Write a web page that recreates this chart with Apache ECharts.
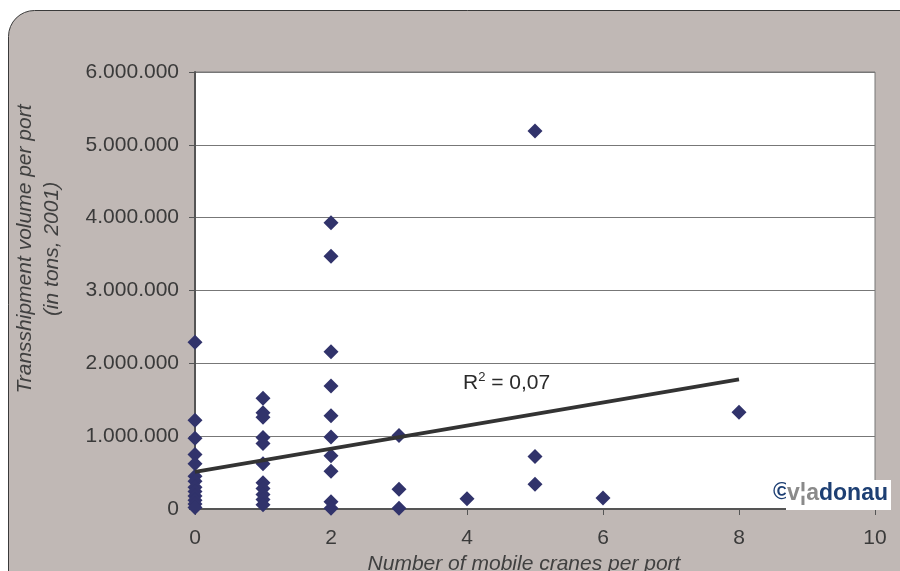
<!DOCTYPE html>
<html>
<head>
<meta charset="utf-8">
<script src="https://cdn.jsdelivr.net/npm/echarts@6/dist/echarts.min.js"></script>
<style>
html,body{margin:0;padding:0;background:#ffffff;overflow:hidden;}
#chart{width:900px;height:571px;}
</style>
</head>
<body>
<div id="chart"></div>
<script>
// Number of mobile cranes per port (x) and transshipment volume in tons (y)
const cranesX = [
  0,0,0,0,0,0,0,0,0,0,0,0,0,
  1,1,1,1,1,1,1,1,1,1,1,
  2,2,2,2,2,2,2,2,2,2,
  3,3,3,
  4,
  5,5,5,
  6,
  8
];
const volumeY = [
  2290000,1220000,970000,750000,620000,450000,380000,300000,240000,180000,120000,70000,20000,
  1520000,1320000,1260000,980000,900000,620000,360000,280000,200000,130000,60000,
  3930000,3470000,2160000,1690000,1280000,990000,730000,520000,100000,10000,
  1010000,270000,10000,
  140000,
  5190000,720000,340000,
  150000,
  1330000
];
const trendX = [0, 8];
const trendY = [510000, 1780000];
const yTicks = [0,1000000,2000000,3000000,4000000,5000000,6000000];
const xTicks = [0,2,4,6,8,10];

const scatterData = cranesX.map((x, i) => [x, volumeY[i]]);
const trendData = trendX.map((x, i) => [x, trendY[i]]);

function fmt(v){ return String(v).replace(/\B(?=(\d{3})+(?!\d))/g, '.'); }

const FF = 'Liberation Sans, Arial, sans-serif';
const chart = echarts.init(document.getElementById('chart'));
chart.setOption({
  animation: false,
  backgroundColor: 'transparent',
  graphic: [
    { type: 'rect', z: -10, shape: { x: 8.5, y: 10.5, width: 920, height: 600, r: 26 },
      style: { fill: '#c0b8b5', stroke: '#3a3a3a', lineWidth: 1 } },
    { type: 'text', z: 10, x: 39, y: 249, rotation: Math.PI / 2,
      style: { text: 'Transshipment volume per port\n(in tons, 2001)', fontFamily: FF,
        fontStyle: 'italic', fontSize: 21, lineHeight: 27, fill: '#404040', align: 'center', verticalAlign: 'middle' } },
    { type: 'text', z: 10, x: 463, y: 383,
      style: { text: '{r|R}{s|2}{r| = 0,07}', fontFamily: FF, fill: '#2a2a2a',
        verticalAlign: 'middle',
        rich: { r: { fontSize: 21, fontFamily: FF, fill: '#2a2a2a' },
                s: { fontSize: 13, fontFamily: FF, fill: '#2a2a2a', verticalAlign: 'top', padding: [0,0,12,0] } } } },
    { type: 'text', z: 10, x: 773, y: 492,
      style: { text: '©', fontSize: 24, fontWeight: 'bold', fill: '#1d3f73', fontFamily: FF, verticalAlign: 'middle' } },
    { type: 'rect', z: 11, shape: { x: 786, y: 480, width: 105, height: 30 }, style: { fill: '#ffffff' } },
    { type: 'text', z: 12, x: 787, y: 494,
      style: { text: '{g|v¦a}{b|donau}', verticalAlign: 'middle',
        rich: {
          g: { fontSize: 23, fontWeight: 'bold', fill: '#8a8a8a', fontFamily: FF },
          b: { fontSize: 23, fontWeight: 'bold', fill: '#1d3f73', fontFamily: FF }
        } } }
  ],
  grid: { left: 195, right: 25, top: 72, bottom: 62, containLabel: false, outerBoundsMode: 'none',
    show: true, backgroundColor: '#ffffff', borderColor: '#777777', borderWidth: 1 },
  xAxis: {
    type: 'value', min: 0, max: 10, interval: 2,
    name: 'Number of mobile cranes per port', nameLocation: 'middle', nameGap: 35,
    nameTextStyle: { fontFamily: FF, fontStyle: 'italic', fontSize: 21, color: '#404040', padding: [0, 22, 0, 0] },
    axisLine: { show: true, lineStyle: { color: '#555555', width: 2 } },
    axisTick: { show: true, inside: false, length: 6, lineStyle: { color: '#555555' } },
    axisLabel: { margin: 19, fontFamily: FF, fontSize: 21, color: '#3a3a3a',
      formatter: v => xTicks.includes(v) ? String(v) : '' },
    splitLine: { show: false }
  },
  yAxis: {
    type: 'value', min: 0, max: 6000000, interval: 1000000,
    axisLine: { show: true, lineStyle: { color: '#555555', width: 2 } },
    axisTick: { show: true, inside: false, length: 6, lineStyle: { color: '#555555' } },
    axisLabel: { margin: 16, fontFamily: FF, fontSize: 21, color: '#3a3a3a',
      formatter: v => yTicks.includes(v) ? fmt(v) : '' },
    splitLine: { show: true, lineStyle: { color: '#777777', width: 1 } }
  },
  series: [
    { type: 'scatter', data: scatterData, symbol: 'diamond', symbolSize: [15, 15],
      itemStyle: { color: '#31336b', opacity: 1 }, z: 3 },
    { type: 'line', data: trendData, symbol: 'none', lineStyle: { color: '#333333', width: 4 }, z: 4 }
  ]
});
</script>
</body>
</html>
